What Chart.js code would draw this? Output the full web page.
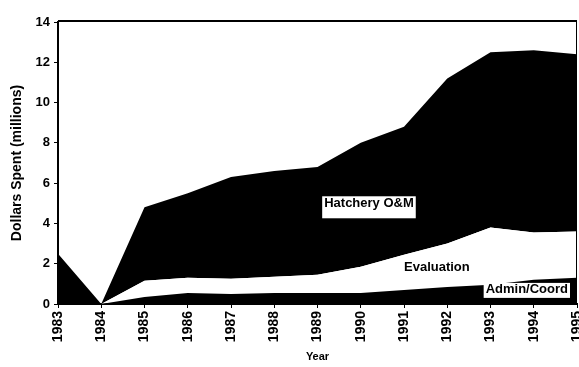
<!DOCTYPE html>
<html>
<head>
<meta charset="utf-8">
<script src="https://cdn.jsdelivr.net/npm/chart.js@4"></script>
<style>
  body { margin: 0; background: #fff; }
  #wrap { width: 579px; height: 367px; }
</style>
</head>
<body>
<div id="wrap"><canvas id="myChart" width="579" height="367"></canvas></div>
<script>
// years along the bottom
var years = ['1983', '1984', '1985', '1986', '1987', '1988', '1989', '1990', '1991', '1992', '1993', '1994', '1995'];
// dollars spent, millions
var adminCoord = [0, 0, 0.35, 0.55, 0.5, 0.55, 0.55, 0.55, 0.7, 0.85, 0.95, 1.2, 1.3];
var evaluation = [0, 0, 0.8, 0.75, 0.75, 0.8, 0.9, 1.3, 1.75, 2.15, 2.85, 2.35, 2.3];
var hatchery = [2.5, 0, 3.65, 4.2, 5.05, 5.25, 5.35, 6.15, 6.35, 8.2, 8.7, 9.05, 8.8];
// in-chart labels: text, x (year index), y (millions), white box or not
var areaLabels = [
  {text: 'Hatchery O&M', x: 7.19, y: 5.0, box: true},
  {text: 'Evaluation', x: 8.76, y: 1.8, box: false},
  {text: 'Admin/Coord', x: 10.84, y: 0.7, box: true}
];

var fontFamily = '"Liberation Sans", Arial, sans-serif';

//draws the frame on top and the area labels
var extrasPlugin = {
  id: 'extras',
  afterDatasetsDraw: function(chart) {
    var c = chart.ctx;
    var a = chart.chartArea;
    c.save();
    //top frame line
    c.strokeStyle = '#000';
    c.lineWidth = 2;
    c.beginPath();
    c.moveTo(a.left, a.top - 1);
    c.lineTo(a.right, a.top - 1);
    c.stroke();
    //thin right edge
    c.lineWidth = 1;
    c.beginPath();
    c.moveTo(a.right - 0.5, a.top);
    c.lineTo(a.right - 0.5, a.bottom);
    c.stroke();

    c.font = 'bold 13px ' + fontFamily;
    c.textAlign = 'center';
    c.textBaseline = 'middle';
    areaLabels.forEach(function(l) {
      var px = chart.scales.x.getPixelForValue(l.x);
      var py = chart.scales.y.getPixelForValue(l.y);
      var w = c.measureText(l.text).width;
      if (l.box) {
        c.fillStyle = '#fff';
        c.fillRect(px - w / 2 - 2, py - 7, w + 4, l.text === 'Hatchery O&M' ? 22 : 15);
      }
      c.fillStyle = '#000';
      c.fillText(l.text, px, py);
    });
    c.restore();
  }
};

var ctx = document.getElementById('myChart').getContext('2d');
var myChart = new Chart(ctx, {
  type: 'line',
  data: {
    labels: years,
    datasets: [{
      label: 'Admin/Coord',
      data: adminCoord,
      backgroundColor: '#000',
      fill: 'origin'
    },
    {
      label: 'Evaluation',
      data: evaluation,
      backgroundColor: '#fff',
      fill: '-1'
    },
    {
      label: 'Hatchery O&M',
      data: hatchery,
      backgroundColor: '#000',
      fill: '-1'
    }]
  },
  options: {
    responsive: false,
    animation: false,
    layout: { padding: { top: 22, right: 2, left: 0, bottom: 0 } },
    elements: {
      line: { tension: 0, borderWidth: 0 },
      point: { radius: 0 }
    },
    plugins: {
      legend: { display: false },
      tooltip: { enabled: false }
    },
    scales: {
      x: {
        offset: false,
        grid: { drawOnChartArea: false, drawTicks: true, tickLength: 4, color: '#000' },
        border: { display: true, width: 2, color: '#000' },
        ticks: {
          color: '#000',
          font: { family: fontFamily, size: 14, weight: 'bold' },
          minRotation: 90,
          maxRotation: 90,
          padding: 3,
          autoSkip: false
        },
        title: {
          display: true,
          text: 'Year',
          color: '#000',
          font: { family: fontFamily, size: 11, weight: 'bold' },
          padding: { top: 0, bottom: 3 }
        },
        afterFit: function(scale) {
          scale.height = 63;
          scale.paddingLeft = 0;
          scale.paddingRight = 0;
        }
      },
      y: {
        stacked: true,
        min: 0,
        max: 14,
        grid: { drawOnChartArea: false, drawTicks: true, tickLength: 4, color: '#000' },
        border: { display: true, width: 2, color: '#000' },
        ticks: {
          stepSize: 2,
          color: '#000',
          font: { family: fontFamily, size: 13, weight: 'bold' },
          padding: 4
        },
        title: {
          display: true,
          text: 'Dollars Spent (millions)',
          color: '#000',
          font: { family: fontFamily, size: 14, weight: 'bold' },
          padding: { top: 9, bottom: 0 }
        },
        afterFit: function(scale) {
          scale.width = 58;
          scale.paddingTop = 0;
          scale.paddingBottom = 0;
        }
      }
    }
  },
  plugins: [extrasPlugin]
});
</script>
</body>
</html>
